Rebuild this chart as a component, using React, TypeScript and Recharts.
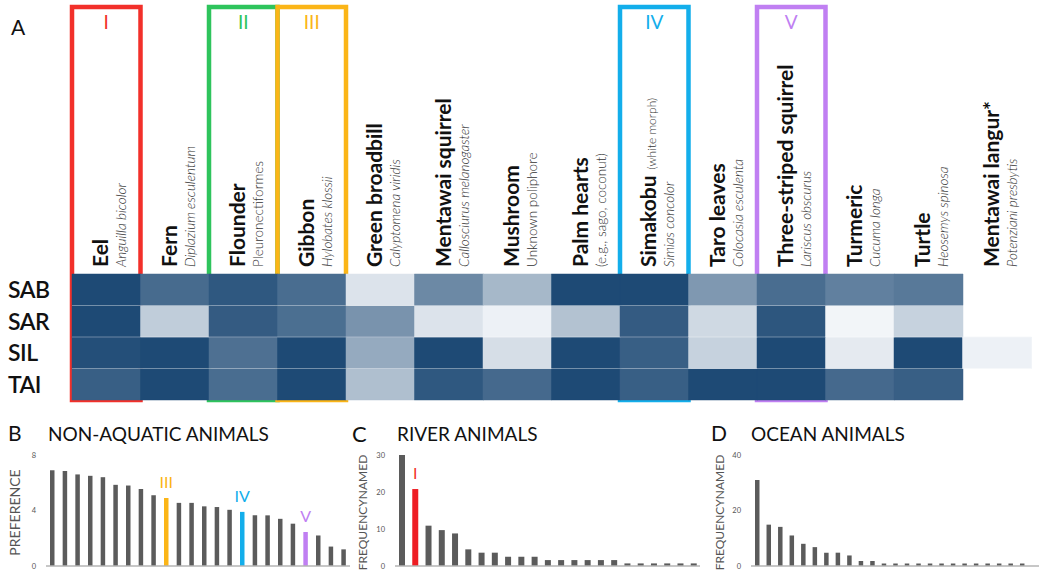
import React from 'react';
import { BarChart, Bar, XAxis, YAxis, Cell, ReferenceArea, ReferenceLine, LabelList } from 'recharts';

// ---------- Panel A: heatmap ----------
const HEAT_COLUMNS = ['Eel', 'Fern', 'Flounder', 'Gibbon', 'Green broadbill', 'Mentawai squirrel', 'Mushroom', 'Palm hearts', 'Simakobu', 'Taro leaves', 'Three-striped squirrel', 'Turmeric', 'Turtle', 'Mentawai langur*'];
const HEAT_NOTES = ['', '', '', '', '', '', '', '', '(white morph)', '', '', '', '', ''];
const HEAT_SUBTITLES = ['Anguilla bicolor', 'Diplazium esculentum', 'Pleuronectiformes', 'Hylobates klossii', 'Calyptomena viridis', 'Callosciurus melanogaster', 'Unknown poliphore', '(e.g., sago, coconut)', 'Simias concolor', 'Colocasia esculenta', 'Lariscus obscurus', 'Cucuma longa', 'Heosemys spinosa', 'Potenziani presbytis'];
const HEAT_ROWS = ['SAB', 'SAR', 'SIL', 'TAI'];
const SAB_VALUES = [1.0, 0.81, 0.92, 0.8, 0.12, 0.64, 0.37, 1.0, 1.0, 0.55, 0.8, 0.69, 0.73, null];
const SAR_VALUES = [1.0, 0.25, 0.9, 0.79, 0.58, 0.12, 0.04, 0.31, 0.9, 0.18, 0.93, 0.02, 0.22, null];
const SIL_VALUES = [0.97, 1.0, 0.78, 1.0, 0.45, 1.0, 0.15, 1.0, 0.88, 0.22, 1.0, 0.08, 1.0, 0.04];
const TAI_VALUES = [0.88, 1.0, 0.8, 1.0, 0.33, 0.92, 0.82, 1.0, 0.88, 1.0, 1.0, 0.82, 0.88, null];

const BOX_COLUMNS = ['Eel', 'Flounder', 'Gibbon', 'Simakobu', 'Three-striped squirrel'];
const BOX_MARKS = ['I', 'II', 'III', 'IV', 'V'];

// ---------- Panels B, C, D ----------
const B_VALUES = [6.9, 6.85, 6.6, 6.5, 6.4, 5.85, 5.8, 5.55, 5.1, 4.9, 4.55, 4.55, 4.3, 4.25, 4.05, 3.9, 3.65, 3.65, 3.4, 3.05, 2.45, 2.2, 1.4, 1.2];
const B_MARKS = ['', '', '', '', '', '', '', '', '', 'III', '', '', '', '', '', 'IV', '', '', '', '', 'V', '', '', ''];
const C_VALUES = [30, 20.8, 10.9, 9.7, 8.8, 4.5, 3.6, 3.6, 2.5, 2.5, 2.5, 1.6, 1.6, 1.6, 1.6, 1.6, 1.6, 0.7, 0.7, 0.7, 0.7, 0.7, 0.7];
const C_MARKS = ['', 'I', '', '', '', '', '', '', '', '', '', '', '', '', '', '', '', '', '', '', '', '', ''];
const D_VALUES = [31, 14.9, 14.1, 11, 8, 6.8, 4.8, 4.8, 3.8, 1.8, 1.8, 0.9, 0.9, 0.9, 0.9, 0.9, 0.9, 0.9, 0.9, 0.9, 0.9, 0.9, 0.9, 0.9, 0];
const D_MARKS = ['', '', '', '', '', '', '', '', '', '', '', '', '', '', '', '', '', '', '', '', '', '', '', '', 'II'];

const MARK_COLORS: Record<string, string> = { I: '#f2302a', II: '#2ec45c', III: '#fbb517', IV: '#13aeeb', V: '#c07ff2' };
const BAR_GRAY = '#5b5b5b';
const FONT = 'Lato, "Open Sans", sans-serif';
const NON_ITALIC = new Set(['Pleuronectiformes', 'Unknown poliphore', '(e.g., sago, coconut)']);

const LIGHT = [246, 248, 251];
const DARK = [30, 74, 117];
function heatColor(v: number | null) {
  if (v === null || v === undefined) return 'rgba(0,0,0,0)';
  const c = LIGHT.map((l, i) => Math.round(l + (DARK[i] - l) * v));
  return `rgb(${c[0]},${c[1]},${c[2]})`;
}

const ROW_DATA: Record<string, (number | null)[]> = { SAB: SAB_VALUES, SAR: SAR_VALUES, SIL: SIL_VALUES, TAI: TAI_VALUES };
const heatTable = HEAT_COLUMNS.map((name) => ({ name, SAB: 1, SAR: 1, SIL: 1, TAI: 1 }));

function ColumnTick(props: any) {
  const { x, payload } = props;
  const i = payload.index;
  const baseY = 267;
  const sub = HEAT_SUBTITLES[i];
  return (
    <g>
      <text transform={`translate(${x + 2},${baseY}) rotate(-90)`} fill="#111" fontFamily={FONT}>
        <tspan style={{ fontSize: 21, fontWeight: 700 }}>{HEAT_COLUMNS[i]}</tspan>
        {HEAT_NOTES[i] ? <tspan dx={6} style={{ fontSize: 12, fontWeight: 300 }} fill="#333">{HEAT_NOTES[i]}</tspan> : null}
      </text>
      <text transform={`translate(${x + 20},${baseY}) rotate(-90)`} fontSize={13.5} fontWeight={300} fontStyle={NON_ITALIC.has(sub) ? 'normal' : 'italic'} fill="#333" fontFamily={FONT}>
        {sub}
      </text>
    </g>
  );
}

function RowTick(props: any) {
  const { y, payload } = props;
  const label = HEAT_ROWS[3 - Math.floor(Number(payload.value))];
  return (
    <text x={8} y={y} dy="0.36em" fontSize={23} fontWeight={600} fill="#111" fontFamily={FONT} letterSpacing={-0.5}>
      {label}
    </text>
  );
}

function Heatmap() {
  const stackOrder = ['TAI', 'SIL', 'SAR', 'SAB'];
  return (
    <BarChart width={1041} height={405} data={heatTable} margin={{ top: 0, right: 10, left: 0, bottom: 5 }} barCategoryGap={0} barGap={0}>
      <XAxis dataKey="name" orientation="top" height={274} interval={0} axisLine={false} tickLine={false} tick={<ColumnTick />} />
      <YAxis type="number" domain={[0, 4]} ticks={[0.5, 1.5, 2.5, 3.5]} width={72} axisLine={false} tickLine={false} tick={<RowTick />} />
      {stackOrder.map((row) => (
        <Bar key={row} dataKey={row} stackId="h" isAnimationActive={false}>
          {ROW_DATA[row].map((v, i) => (
            <Cell key={i} fill={heatColor(v)} stroke={heatColor(v)} strokeWidth={0.5} />
          ))}
        </Bar>
      ))}
      {[1, 2, 3].map((y) => (
        <ReferenceLine key={y} y={y} stroke="#ffffff" strokeOpacity={0.35} strokeWidth={1} />
      ))}
      {BOX_COLUMNS.map((col, i) => (
        <ReferenceArea key={col} x1={col} x2={col} y1={0} y2={12.48} ifOverflow="visible" fill="none" fillOpacity={0}
          stroke={MARK_COLORS[BOX_MARKS[i]]} strokeWidth={4.5} strokeOpacity={1}
          label={{ value: BOX_MARKS[i], position: 'insideTop', offset: 9, fill: MARK_COLORS[BOX_MARKS[i]], fontSize: 19, fontFamily: FONT, fontWeight: 400 }} />
      ))}
    </BarChart>
  );
}

function makeTable(values: number[], marks: string[]) {
  return values.map((value, i) => ({ idx: i, value, mark: marks[i] }));
}

function MarkLabel(props: any) {
  const { x, y, width, value } = props;
  if (!value) return null;
  return (
    <text x={Number(x) + Number(width) / 2} y={Number(y) - 10} textAnchor="middle" fill={MARK_COLORS[value]} fontSize={16} fontFamily={FONT}>
      {value}
    </text>
  );
}

function SmallBars({ left, width, yWidth, values, marks, domain, ticks, axisTitle, titleX, titleSize, barSize, markColorOverride }: any) {
  const data = makeTable(values, marks);
  return (
    <div style={{ position: 'absolute', left, top: 440 }}>
      <BarChart width={width} height={135} data={data} margin={{ top: 15, right: 2, left: 0, bottom: 8 }} barCategoryGap={0}>
        <XAxis dataKey="idx" tick={false} tickLine={false} height={1} axisLine={{ stroke: '#b5b5b5', strokeWidth: 1.5 }} />
        <YAxis type="number" domain={domain} ticks={ticks} width={yWidth} axisLine={false} tickLine={false} tickSize={0} tickMargin={10}
          tick={{ fontSize: 7.5, fill: '#555', fontFamily: FONT }}
          label={{
            content: (p: any) => {
              const vb = p.viewBox || {};
              const cy = (vb.y ?? 15) + (vb.height ?? 112) / 2 + 2;
              return (
                <text transform={`translate(${titleX},${cy}) rotate(-90)`} textAnchor="middle" dominantBaseline="central" fontSize={titleSize} fill="#555" fontFamily={FONT}>
                  {axisTitle}
                </text>
              );
            },
          }} />
        <Bar dataKey="value" barSize={barSize} isAnimationActive={false}>
          {data.map((d, i) => (
            <Cell key={i} fill={d.mark ? (markColorOverride?.[d.mark] ?? MARK_COLORS[d.mark]) : BAR_GRAY} />
          ))}
          <LabelList dataKey="mark" content={<MarkLabel />} />
        </Bar>
      </BarChart>
    </div>
  );
}

export default function App() {
  return (
    <div style={{ position: 'absolute', left: 0, top: 0, width: 1041, height: 576, background: '#fff', fontFamily: FONT, overflow: 'hidden' }}>
      <div style={{ position: 'absolute', left: 0, top: 0 }}>
        <Heatmap />
      </div>
      <SmallBars left={0} width={352} yWidth={46} values={B_VALUES} marks={B_MARKS} domain={[0, 8]} ticks={[0, 4, 8]}
        axisTitle="PREFERENCE" titleX={14} titleSize={14} barSize={4.5} />
      <SmallBars left={340} width={362} yWidth={55} values={C_VALUES} marks={C_MARKS} domain={[0, 30]} ticks={[0, 10, 20, 30]}
        axisTitle="FREQUENCYNAMED" titleX={22} titleSize={12} barSize={6} markColorOverride={{ I: '#ee1d23' }} />
      <SmallBars left={700} width={341} yWidth={51} values={D_VALUES} marks={D_MARKS} domain={[0, 40]} ticks={[0, 20, 40]}
        axisTitle="FREQUENCYNAMED" titleX={19} titleSize={12} barSize={4.5} />
      <svg width={1041} height={576} style={{ position: 'absolute', left: 0, top: 0, pointerEvents: 'none' }}>
        <text x={11} y={35} fontSize={21} fill="#111" fontFamily={FONT}>A</text>
        <text x={8} y={441} fontSize={21} fill="#111" fontFamily={FONT}>B</text>
        <text x={48} y={441} fontSize={19} fill="#111" fontFamily={FONT}>NON-AQUATIC ANIMALS</text>
        <text x={352} y={442} fontSize={22} fill="#111" fontFamily={FONT}>C</text>
        <text x={397} y={441} fontSize={19} fill="#111" fontFamily={FONT}>RIVER ANIMALS</text>
        <text x={711} y={441} fontSize={21} fill="#111" fontFamily={FONT}>D</text>
        <text x={751} y={441} fontSize={19} fill="#111" fontFamily={FONT}>OCEAN ANIMALS</text>
      </svg>
    </div>
  );
}
